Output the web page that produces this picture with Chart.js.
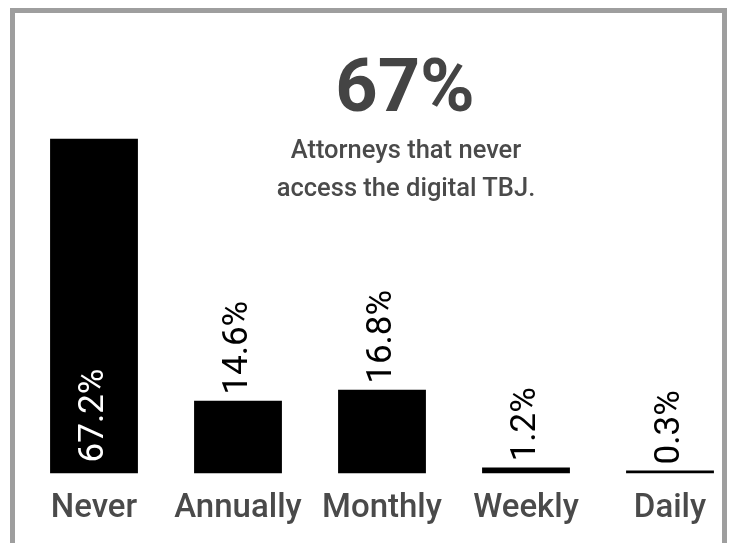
<!DOCTYPE html>
<html>
<head>
<meta charset="utf-8">
<script src="https://cdn.jsdelivr.net/npm/chart.js@4.4.0/dist/chart.umd.min.js"></script>
<style>
  html, body {
    margin: 0;
    padding: 0;
    width: 730px;
    height: 543px;
    overflow: hidden;
    background: #fff;
    font-family: Roboto, sans-serif;
  }
  #wrap {
    position: relative;
    width: 730px;
    height: 543px;
    overflow: hidden;
  }
  #wrap canvas {
    position: absolute;
    left: 0;
    top: 0;
  }
  .frame {
    position: absolute;
    left: 10px;
    top: 8px;
    width: 707px;
    height: 600px;
    border: 5px solid #9e9e9e;
    border-bottom: none;
    pointer-events: none;
  }
  .headline {
    position: absolute;
    left: 255px;
    width: 300px;
    text-align: center;
    color: #444;
  }
  .big {
    top: 44px;
    font-size: 74px;
    font-weight: 700;
    line-height: 84px;
  }
  .sub {
    top: 130px;
    left: 256px;
    font-size: 25.5px;
    font-weight: 500;
    line-height: 38px;
    color: #4a4a4a;
  }
</style>
</head>
<body>
<div id="wrap">
  <canvas id="chart" width="760" height="561"></canvas>
  <div class="frame"></div>
  <div class="headline big">67%</div>
  <div class="headline sub">Attorneys that never<br>access the digital TBJ.</div>
</div>
<script>
const categories = ['Never', 'Annually', 'Monthly', 'Weekly', 'Daily'];
const shares = [67.2, 14.6, 16.8, 1.2, 0.3];
const valueLabels = ['67.2%', '14.6%', '16.8%', '1.2%', '0.3%'];

// rotated value labels: inside the bar when it fits, otherwise on top
const barLabels = {
  id: 'barLabels',
  afterDatasetsDraw(chart) {
    const ctx = chart.ctx;
    const meta = chart.getDatasetMeta(0);
    ctx.save();
    ctx.font = '35px Roboto';
    ctx.textAlign = 'left';
    ctx.textBaseline = 'middle';
    meta.data.forEach((bar, i) => {
      const text = valueLabels[i];
      const w = ctx.measureText(text).width;
      const inside = (bar.base - bar.y) > w + 30;
      ctx.save();
      if (inside) {
        ctx.translate(bar.x, bar.base - 11);
        ctx.fillStyle = '#fff';
      } else {
        ctx.translate(bar.x, bar.y - 6);
        ctx.fillStyle = '#000';
      }
      ctx.rotate(-Math.PI / 2);
      ctx.fillText(text, 0, 0);
      ctx.restore();
    });
    ctx.restore();
  }
};

new Chart(document.getElementById('chart'), {
  type: 'bar',
  data: {
    labels: categories,
    datasets: [{
      data: shares,
      backgroundColor: '#000',
      borderWidth: 0,
      minBarLength: 3,
      barPercentage: 0.61,
      categoryPercentage: 1
    }]
  },
  options: {
    responsive: false,
    animation: false,
    layout: {
      padding: {left: 22, right: 18, top: 75, bottom: 16}
    },
    scales: {
      x: {
        grid: {display: false, drawTicks: false},
        border: {display: false},
        ticks: {
          padding: 16,
          color: '#4a4a4a',
          font: {family: 'Roboto', size: 33, weight: '500'}
        }
      },
      y: {
        display: false,
        min: 0,
        max: 80
      }
    },
    plugins: {
      legend: {display: false},
      tooltip: {enabled: false}
    }
  },
  plugins: [barLabels]
});
</script>
</body>
</html>
